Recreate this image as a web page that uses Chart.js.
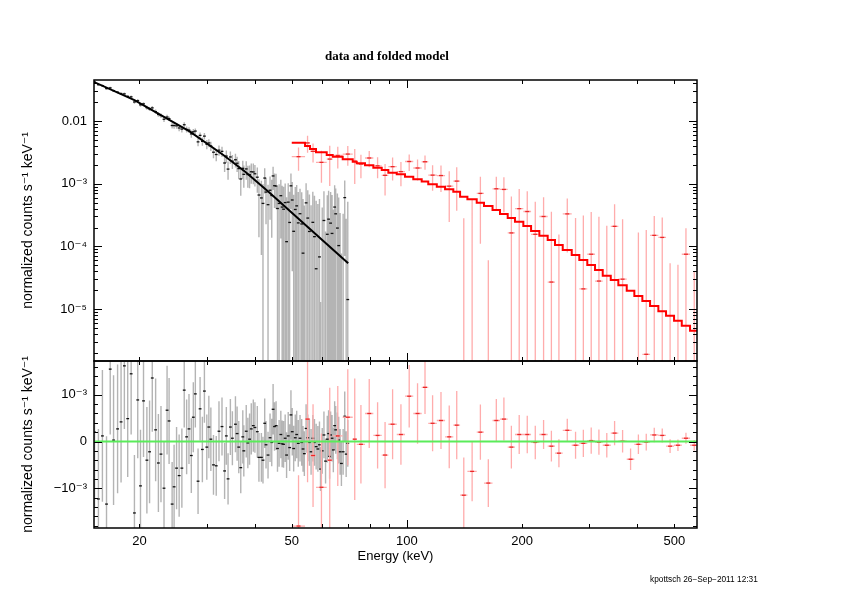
<!DOCTYPE html>
<html><head><meta charset="utf-8">
<script src="https://cdn.jsdelivr.net/npm/chart.js@4/dist/chart.umd.min.js"></script>
<style>
html,body{margin:0;padding:0;background:#fff;}
#wrap{position:relative;width:842px;height:595px;overflow:hidden;}
#c{position:absolute;left:0;top:0;}
#title{position:absolute;left:0;width:774px;top:48px;text-align:center;font:bold 13px "Liberation Serif","DejaVu Serif",serif;color:#000;}
#foot{position:absolute;left:650px;top:574px;font:8.3px "Liberation Sans","DejaVu Sans",sans-serif;color:#000;white-space:nowrap;}
</style></head>
<body><div id="wrap"><canvas id="c" width="842" height="595"></canvas>
<div id="title">data and folded model</div><div id="foot">kpottsch 26−Sep−2011 12:31</div></div>
<script>
// ---------- axis settings ----------
const xAxisMin = 15.21, xAxisMax = 573;
const rateAxisMin = 1.486e-6, rateAxisMax = 0.0451;
const resAxisMin = -1.852e-3, resAxisMax = 1.724e-3;
const xTickValues = [20, 50, 100, 200, 500];
const xTickLabels = ['20', '50', '100', '200', '500'];
const xMinorTicks = [20, 30, 40, 50, 60, 70, 80, 90, 200, 300, 400, 500];
const xMajorTicks = [100];
const rateTickValues = [1e-5, 1e-4, 1e-3, 1e-2];
const rateTickLabels = ['10⁻⁵', '10⁻⁴', '10⁻³', '0.01'];
const resTickValues = [-1e-3, 0, 1e-3];
const resTickLabels = ['−10⁻³', '0', '10⁻³'];

// ---------- black spectrum (data, 15-70 keV) ----------
const blackEnergy = [15.26,15.62,16.00,16.40,16.77,17.11,17.53,17.90,18.26,18.63,
19.02,19.40,19.79,20.12,20.49,20.91,21.25,21.60,22.04,22.41,
22.76,23.18,23.61,23.90,24.34,24.63,25.00,25.39,25.81,26.18,
26.56,26.94,27.32,27.65,27.99,28.45,28.80,29.20,29.56,29.99,
30.36,30.73,31.22,31.74,32.27,32.86,33.38,33.73,34.08,34.56,
34.98,35.63,35.99,36.35,36.79,37.24,37.47,38.02,38.39,38.79,
39.19,39.67,40.06,40.64,41.04,41.65,42.05,42.49,42.83,43.35,
43.88,44.33,44.69,45.07,45.50,45.89,46.34,46.82,47.19,47.60,
48.06,48.47,48.95,49.37,49.76,50.15,50.58,51.07,51.51,52.00,
52.55,53.09,53.51,53.94,54.51,55.06,55.61,56.17,56.76,57.32,
57.91,58.51,59.08,59.45,60.07,60.69,61.28,61.92,62.41,62.79,
63.18,63.72,64.22,64.73,65.13,65.81,66.33,66.89,67.42,68.12,
68.78,69.37,70.05];
const blackRate = [0.0418,0.0379,0.0367,0.0329,0.0338,0.0305,0.0288,0.0274,0.0271,0.0247,
0.0243,0.0201,0.0211,0.0181,0.0188,0.0163,0.0156,0.0162,0.0141,0.0127,
0.0122,0.01067,0.01158,0.01093,0.00848,0.00846,0.00838,0.00774,0.00743,0.00872,
0.00734,0.00717,0.00623,0.00673,0.00691,0.00465,0.00590,0.00474,0.00574,0.00426,
0.00447,0.00399,0.00318,0.00292,0.00343,0.00328,0.00214,0.00276,0.00171,0.00267,
0.00229,0.00241,0.00212,0.00174,0.00119,0.00176,0.00141,0.00172,0.00140,0.00140,
0.00155,0.00154,0.00144,0.00127,0.00066,0.000593,0.000485,0.00123,0.000735,0.000463,
0.000786,0.000648,0.00133,0.00093,0.000918,0.000402,0.000484,0.000644,0.000424,0.000392,
0.000500,0.000119,0.000508,0.000241,0.000925,0.000550,0.000174,0.000388,0.000443,0.000237,
0.000332,0.000228,0.000078,-0.000032,0.000495,0.000283,0.000173,-0.000038,0.000242,0.000143,
0.000044,-0.000014,0.000068,-0.000457,-0.000074,0.000259,-0.000307,0.000156,0.000272,-0.000221,
0.000235,0.000161,-0.000093,0.000424,0.000331,0.000196,0.000103,-0.000150,-0.000403,-0.000157,
0.000600,-0.000213,0.0000142];
const blackError = [0.0016,0.0015,0.00141,0.00145,0.0014,0.00139,0.00138,0.0013,0.00135,0.00125,
0.0013,0.00124,0.00125,0.0012,0.0012,0.00114,0.0011,0.00115,0.0011,0.00105,
0.00103,0.001,0.00095,0.00092,0.0009,0.0009,0.00088,0.00088,0.00085,0.0008,
0.0008,0.00075,0.0008,0.00075,0.00072,0.0007,0.00068,0.0007,0.00068,0.0007,
0.00067,0.00068,0.00064,0.00064,0.00064,0.00062,0.0006,0.00062,0.00055,0.0006,
0.00058,0.0006,0.00058,0.00056,0.00055,0.00057,0.00055,0.00056,0.00054,0.00055,
0.00055,0.00056,0.00054,0.00055,0.00052,0.00052,0.0005,0.00053,0.00051,0.0005,
0.00052,0.00051,0.00054,0.00052,0.00052,0.0005,0.0005,0.00051,0.0005,0.0005,
0.00051,0.00049,0.00051,0.0005,0.00053,0.00051,0.00049,0.0005,0.00051,0.0005,
0.0005,0.0005,0.00049,0.00048,0.00052,0.0005,0.0005,0.00049,0.0005,0.0005,
0.00049,0.00049,0.0005,0.00047,0.00049,0.0005,0.00048,0.0005,0.0005,0.00048,
0.0005,0.0005,0.00048,0.00052,0.00051,0.0005,0.0005,0.00049,0.00048,0.00049,
0.00053,0.00049,0.0005];
const blackResidual = [0.0002,-0.00123,0.00012,-0.00134,0.00155,0.00003,0.00027,0.00042,0.00162,0.00049,
0.00145,-0.00153,0.00089,-0.00095,0.00087,-0.0004,-0.00022,0.00136,0.00025,-0.00046,
-0.00027,-0.001,0.00067,0.00044,-0.00134,-0.00097,-0.00057,-0.00073,-0.00057,0.0011,
0.0001,0.00027,-0.0003,0.00052,0.00102,-0.00085,0.0007,-0.00017,0.00108,-0.00012,
0.00031,0.00005,-0.0005,-0.00052,0.00022,0.00032,-0.00063,0.00012,-0.0008,0.00031,
0.00007,0.00037,0.00017,-0.00012,-0.00056,0.0001,-0.0002,0.00022,-0.00003,0.00005,
0.00027,0.00034,0.0003,0.00021,-0.00034,-0.00034,-0.0004,0.00039,-0.00007,-0.00029,
0.00008,-0.00002,0.00069,0.00032,0.00034,-0.00015,-0.00004,0.00015,-0.00005,-0.00006,
0.00007,-0.00029,0.00012,-0.00013,0.00057,0.00021,-0.00015,0.00008,0.00015,-0.00004,
0.00007,-0.00002,-0.00016,-0.00026,0.00028,0.00008,-0.00002,-0.00022,0.00007,-0.00002,
-0.00011,-0.00016,-0.00007,-0.00059,-0.0002,0.00014,-0.00042,0.00005,0.00017,-0.00032,
0.00014,0.00007,-0.00018,0.00034,0.00025,0.00012,0.00003,-0.00022,-0.00047,-0.00022,
0.00054,-0.00027,-0.00004];
// black folded model (vertices of the curve)
const blackModelEnergy = [15.10, 19.40, 27.10, 33.12, 37.85, 43.54, 52.87, 70.22];
const blackModelRate = [0.0427, 0.0216, 0.00675, 0.00287, 0.001537, 0.000737, 0.000254, 0.0000538];

// ---------- red spectrum (binned data, 50-578 keV) ----------
const redBinLow = [50.0,54.17,55.81,57.86,61.71,63.98,67.94,72.17,73.93,77.71,
81.70,85.93,89.42,94.06,98.86,103.9,109.3,113.7,119.7,125.8,
132.2,137.7,143.9,152.2,159.0,167.4,175.1,183.4,191.6,201.5,
211.1,221.9,233.3,243.8,255.4,269.6,282.2,296.1,310.2,324.9,
341.0,356.9,375.4,393.0,412.4,432.0,454.1,475.6,499.1,522.8,549.5];
const redBinHigh = [54.17,55.81,57.86,61.71,63.98,67.94,72.17,73.93,77.71,81.70,
85.93,89.42,94.06,98.86,103.9,109.3,113.7,119.7,125.8,132.2,
137.7,143.9,152.2,159.0,167.4,175.1,183.4,191.6,201.5,211.1,
221.9,233.3,243.8,255.4,269.6,282.2,296.1,310.2,324.9,341.0,
356.9,375.4,393.0,412.4,432.0,454.1,475.6,499.1,522.8,549.5,577.7];
const redRate = [0.0027,0.00447,0.00328,0.00219,0.00247,0.00282,0.00297,0.00229,0.00206,0.00257,
0.00193,0.00136,0.00187,0.00156,0.00226,0.00178,0.00224,0.00137,0.00135,0.000914,
0.0011,-0.00053,-0.000076,0.0007,-0.00045,0.00083,0.00081,0.000164,0.0004,0.00036,
0.000156,0.0003,0.000027,-0.000145,0.00033,-0.000007,0.000021,0.000075,0.000028,-0.000046,
0.000209,0.00003,-0.00036,-0.000044,0.0000019,0.00015,0.000139,-0.000092,-0.000074,0.000075,-0.000075];
const redError = [0.00109,0.00135,0.0011,0.00115,0.00155,0.00107,0.00103,0.0013,0.00084,0.00074,
0.00071,0.00071,0.00075,0.00065,0.00067,0.00065,0.00057,0.0006,0.00061,0.00067,
0.00073,0.00081,0.00064,0.00059,0.00051,0.00046,0.00046,0.00046,0.00042,0.0004,
0.00036,0.00031,0.00033,0.0003,0.00025,0.00029,0.00029,0.00028,0.00027,0.00026,
0.00026,0.00024,0.00023,0.00021,0.00018,0.000155,0.00015,0.000146,0.000125,0.00012,0.000115];
const redResidual = [-0.00181,0.00048,-0.0003,-0.00098,-0.0004,0.00012,0.00052,0.00005,-0.00006,0.0006,
0.00013,-0.00029,0.00037,0.00015,0.00097,0.0006,0.00116,0.00039,0.00045,0.0001,
0.00035,-0.00115,-0.00064,0.0002,-0.00089,0.00045,0.00048,-0.00012,0.00015,0.00015,
-0.00002,0.00015,-0.0001,-0.00025,0.00024,-0.00008,-0.00004,0.00002,-0.000014,-0.00008,
0.00018,0.000006,-0.00038,-0.00006,-0.000012,0.00014,0.00013,-0.0001,-0.00008,0.00007,-0.00008];
const redModel = [0.00451,0.00399,0.00358,0.00317,0.00287,0.0027,0.00245,0.00224,0.00212,0.00197,
0.0018,0.00165,0.0015,0.00141,0.00129,0.00118,0.00108,0.000978,0.000896,0.000814,
0.000745,0.00062,0.000564,0.000498,0.000441,0.000381,0.000329,0.000284,0.000248,0.000212,
0.000176,0.000148,0.0001265,0.000105,0.0000876,0.0000729,0.0000607,0.0000505,0.000042,0.0000341,
0.0000291,0.000024,0.0000197,0.0000162,0.0000135,0.0000112,0.0000092,0.0000078,0.0000065,0.0000054,0.0000045];

// ---------- build library datasets ----------
const FONT = '"Liberation Sans","DejaVu Sans",Arial,sans-serif';
function vBars(xs, vals, errs, isLog) {
  const pts = [];
  xs.forEach((x, i) => {
    let lo = vals[i] - errs[i], hi = vals[i] + errs[i];
    if (isLog) { if (hi <= 0) return; if (lo <= 0) lo = 1e-12; }
    pts.push({x: x, y: lo}, {x: x, y: hi}, {x: x, y: null});
  });
  return pts;
}
function hBars(los, his, vals, isLog) {
  const pts = [];
  los.forEach((lo, i) => {
    if (isLog && vals[i] <= 0) return;
    pts.push({x: lo, y: vals[i]}, {x: his[i], y: vals[i]}, {x: his[i], y: null});
  });
  return pts;
}
function pointsOf(xs, vals) { return xs.map((x, i) => ({x: x, y: vals[i]})); }
const redMid = redBinLow.map((lo, i) => (lo + redBinHigh[i]) / 2);
const redModelPts = [];
redBinLow.forEach((lo, i) => { redModelPts.push({x: lo, y: redModel[i]}, {x: redBinHigh[i], y: redModel[i]}); });

const GREY = 'rgb(180,180,180)', PINK = 'rgb(255,172,172)';
function lineSet(data, yAxisID, color, width, order) {
  return {data, yAxisID, xAxisID: 'x', borderColor: color, borderWidth: width, pointRadius: 0,
          showLine: true, spanGaps: false, fill: false, tension: 0, order};
}
function markSet(data, yAxisID, color, radius, order) {
  return {data, yAxisID, xAxisID: 'x', showLine: false, pointStyle: 'line', pointRadius: radius,
          pointBorderColor: color, borderColor: color, pointBorderWidth: 1.3, order};
}
const datasets = [
  lineSet([{x: xAxisMin, y: 0}, {x: xAxisMax, y: 0}], 'y2', 'rgb(90,236,90)', 2, 0),
  lineSet(redModelPts, 'y', '#ff0000', 2, 1),
  lineSet(pointsOf(blackModelEnergy, blackModelRate), 'y', '#000000', 2, 2),
  markSet(pointsOf(redMid, redRate), 'y', 'rgb(235,40,40)', 2, 3),
  markSet(pointsOf(redMid, redResidual), 'y2', 'rgb(235,40,40)', 2, 3),
  lineSet(hBars(redBinLow, redBinHigh, redRate, true), 'y', PINK, 1.3, 4),
  lineSet(vBars(redMid, redRate, redError, true), 'y', PINK, 1.3, 4),
  lineSet(hBars(redBinLow, redBinHigh, redResidual, false), 'y2', PINK, 1.3, 4),
  lineSet(vBars(redMid, redResidual, redError, false), 'y2', PINK, 1.3, 4),
  markSet(pointsOf(blackEnergy, blackRate), 'y', '#111', 1.4, 5),
  markSet(pointsOf(blackEnergy, blackResidual), 'y2', '#111', 1.4, 5),
  lineSet(vBars(blackEnergy, blackRate, blackError, true), 'y', GREY, 1.4, 6),
  lineSet(vBars(blackEnergy, blackResidual, blackError, false), 'y2', GREY, 1.4, 6)
];

// clip each dataset to its own panel
const panelClip = {
  id: 'panelClip',
  beforeDatasetDraw(chart, args) {
    const ys = chart.scales[args.meta.yAxisID], a = chart.chartArea, c = chart.ctx;
    c.save(); c.beginPath(); c.rect(a.left, ys.top, a.right - a.left, ys.bottom - ys.top); c.clip();
  },
  afterDatasetDraw(chart) { chart.ctx.restore(); }
};
// inward ticks and panel frames
const rateMinor = [], resMinor = [];
for (let e = -6; e <= -2; e++) for (let k = 2; k <= 9; k++) rateMinor.push(k * Math.pow(10, e));
for (let k = -9; k <= 8; k++) if (k % 5 !== 0) resMinor.push(k * 2e-4);
const framePlugin = {
  id: 'frame',
  afterDraw(chart) {
    const c = chart.ctx, xs = chart.scales.x, a = chart.chartArea;
    const panels = [
      {s: chart.scales.y, major: rateTickValues, minor: rateMinor},
      {s: chart.scales.y2, major: resTickValues, minor: resMinor}
    ];
    c.save(); c.strokeStyle = '#000';
    panels.forEach(p => {
      const t = p.s.top, b = p.s.bottom;
      c.lineWidth = 1; c.beginPath();
      const xt = (list, len) => list.forEach(v => {
        const px = Math.round(xs.getPixelForValue(v)) + 0.5;
        c.moveTo(px, b); c.lineTo(px, b - len); c.moveTo(px, t); c.lineTo(px, t + len);
      });
      const yt = (list, len) => list.forEach(v => {
        const py = Math.round(p.s.getPixelForValue(v)) + 0.5;
        if (py < t || py > b) return;
        c.moveTo(a.left, py); c.lineTo(a.left + len, py); c.moveTo(a.right, py); c.lineTo(a.right - len, py);
      });
      xt(xMinorTicks, 4); xt(xMajorTicks, 8); yt(p.minor, 4); yt(p.major, 8);
      c.stroke();
      c.lineWidth = 1.5; c.strokeRect(a.left, t, a.right - a.left, b - t);
    });
    c.restore();
  }
};

const titleY = 'normalized counts s⁻¹ keV⁻¹';
new Chart(document.getElementById('c').getContext('2d'), {
  type: 'line',
  data: {datasets},
  options: {
    responsive: false, animation: false, devicePixelRatio: 1, events: [],
    layout: {padding: {left: 0, right: 145, top: 80, bottom: 0}},
    plugins: {legend: {display: false}, tooltip: {enabled: false}, title: {display: false}},
    scales: {
      x: {
        type: 'logarithmic', position: 'bottom', min: xAxisMin, max: xAxisMax, bounds: 'data',
        afterBuildTicks: s => { s.ticks = xTickValues.map(v => ({value: v})); },
        afterFit: s => { s.height = 67; },
        ticks: {callback: (v, i) => xTickLabels[i], autoSkip: false, maxRotation: 0, padding: 6,
                color: '#000', font: {family: FONT, size: 13}},
        grid: {display: false, drawTicks: false}, border: {display: false},
        title: {display: true, text: 'Energy (keV)', color: '#000', font: {family: FONT, size: 13},
                padding: {top: 0, bottom: 31}}
      },
      y: {
        type: 'logarithmic', position: 'left', stack: 'panels', stackWeight: 281, weight: 2,
        min: rateAxisMin, max: rateAxisMax, bounds: 'data',
        afterBuildTicks: s => { s.ticks = rateTickValues.map(v => ({value: v})); },
        afterFit: s => { s.width = 94; },
        ticks: {callback: (v, i) => rateTickLabels[i], autoSkip: false, padding: 7,
                color: '#000', font: {family: FONT, size: 13}},
        grid: {display: false, drawTicks: false}, border: {display: false},
        title: {display: true, text: titleY, color: '#000', font: {family: FONT, size: 14},
                padding: {top: 20, bottom: 0}}
      },
      y2: {
        type: 'linear', position: 'left', stack: 'panels', stackWeight: 167, weight: 1,
        min: resAxisMin, max: resAxisMax, bounds: 'data',
        afterBuildTicks: s => { s.ticks = resTickValues.map(v => ({value: v})); },
        afterFit: s => { s.width = 94; },
        ticks: {callback: (v, i) => resTickLabels[i], autoSkip: false, padding: 7,
                color: '#000', font: {family: FONT, size: 13}},
        grid: {display: false, drawTicks: false}, border: {display: false},
        title: {display: true, text: titleY, color: '#000', font: {family: FONT, size: 14},
                padding: {top: 20, bottom: 0}}
      }
    }
  },
  plugins: [panelClip, framePlugin]
});
</script></body></html>
